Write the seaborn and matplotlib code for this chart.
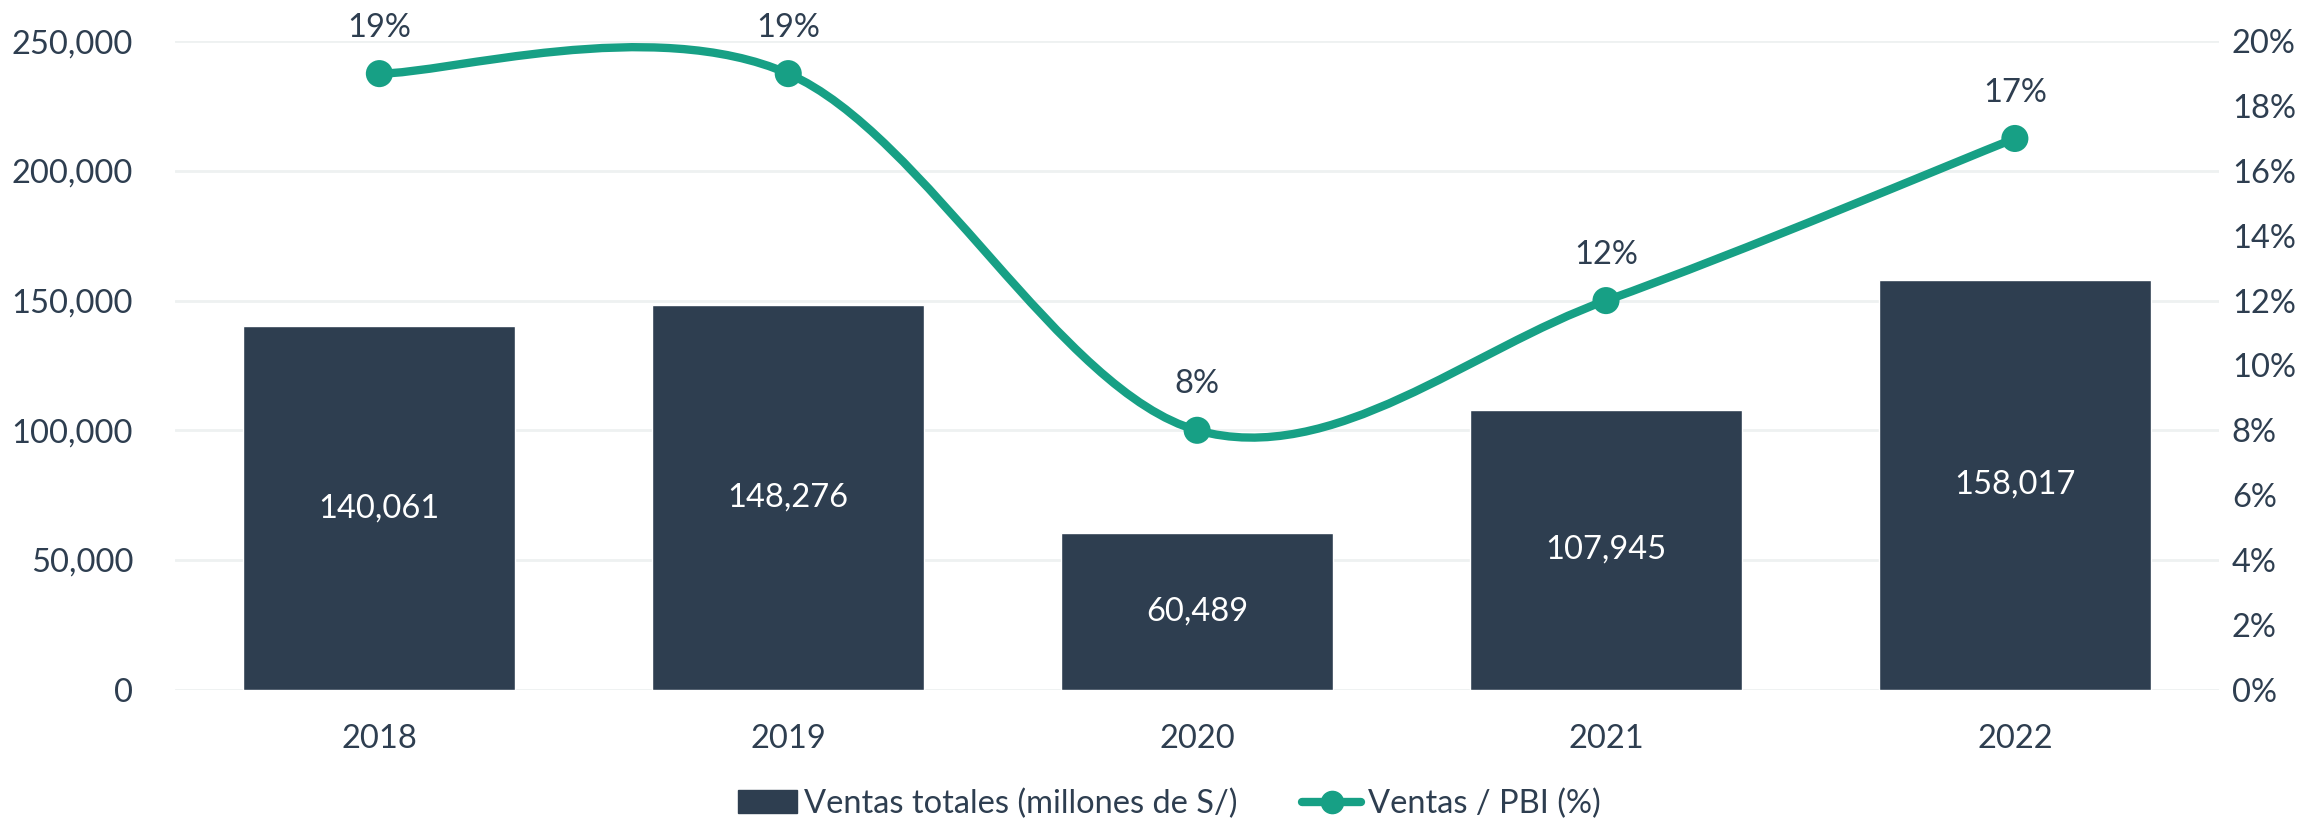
import numpy as np
import pandas as pd
import matplotlib
matplotlib.use("Agg")
import matplotlib.pyplot as plt
from matplotlib.path import Path
from matplotlib.patches import PathPatch, Patch
from matplotlib.lines import Line2D
from matplotlib.ticker import FuncFormatter, MultipleLocator
import seaborn as sns

# data
years = ["2018", "2019", "2020", "2021", "2022"]
ventas = [140061, 148276, 60489, 107945, 158017]   # millones de S/
ventas_pbi = [19, 19, 8, 12, 17]                    # %

NAVY = "#2E3E50"
TEAL = "#17A085"
GRID = "#EEF1F1"
FS = 23.5

sns.set_theme(style="white")
plt.rcParams["font.family"] = ["Lato", "DejaVu Sans"]
plt.rcParams["text.color"] = NAVY

df = pd.DataFrame({"year": years, "ventas": ventas, "pbi": ventas_pbi})

fig = plt.figure(figsize=(23.2, 8.24), dpi=100)
ax = fig.add_axes([0.0754, 0.163, 0.8812, 0.787])

sns.barplot(data=df, x="year", y="ventas", color=NAVY, saturation=1,
            width=0.665, ax=ax, zorder=2)
ax.set_xlim(-0.5, 4.5)
ax.set_ylim(0, 250000)
ax.yaxis.set_major_locator(MultipleLocator(50000))
ax.yaxis.set_major_formatter(FuncFormatter(lambda v, p: f"{v:,.0f}"))
ax.grid(axis="y", color=GRID, lw=2)
ax.set_axisbelow(True)
for s in ax.spines.values():
    s.set_visible(False)
ax.tick_params(axis="y", length=0, pad=30, labelsize=FS, labelcolor=NAVY)
ax.tick_params(axis="x", length=0, pad=25, labelsize=FS, labelcolor=NAVY)
ax.set_xlabel("")
ax.set_ylabel("")
for c in ax.containers:
    ax.bar_label(c, labels=[f"{v:,}" for v in ventas], label_type="center",
                 color="white", fontsize=FS)

# secondary axis: ventas / PBI
ax2 = ax.twinx()
ax2.set_ylim(0, 20)
ax2.yaxis.set_major_locator(MultipleLocator(2))
ax2.yaxis.set_major_formatter(FuncFormatter(lambda v, p: f"{v:.0f}%"))
ax2.tick_params(axis="y", length=0, pad=9, labelsize=FS, labelcolor=NAVY)
ax2.grid(False)
for s in ax2.spines.values():
    s.set_visible(False)

# smoothed line (bezier through the points, like excel's smooth line)
x = np.arange(len(years), dtype=float)
y = np.array(ventas_pbi, dtype=float)
pts = np.column_stack([x, y])
verts = [pts[0]]
codes = [Path.MOVETO]
for i in range(len(pts) - 1):
    p0 = pts[max(i - 1, 0)]
    p1 = pts[i]
    p2 = pts[i + 1]
    p3 = pts[min(i + 2, len(pts) - 1)]
    verts += [p1 + (p2 - p0) / 6, p2 - (p3 - p1) / 6, p2]
    codes += [Path.CURVE4] * 3
ax2.add_patch(PathPatch(Path(verts, codes), fill=False, edgecolor=TEAL,
                        lw=6, capstyle="round", zorder=3))
sns.scatterplot(x=x, y=y, ax=ax2, color=TEAL, s=380, edgecolor="none",
                zorder=4, legend=False)
for xi, v in zip(x, ventas_pbi):
    ax2.annotate(f"{v}%", (xi, v), xytext=(0, 33), textcoords="offset points",
                 ha="center", va="center", fontsize=FS, color=NAVY,
                 annotation_clip=False)
ax2.set_xlim(-0.5, 4.5)

handles = [
    Patch(color=NAVY, label="Ventas totales (millones de S/)"),
    Line2D([], [], color=TEAL, lw=6, marker="o", ms=16,
           label="Ventas / PBI (%)"),
]
fig.legend(handles=handles, loc="lower center", bbox_to_anchor=(0.504, -0.03),
           ncol=2, frameon=False, fontsize=FS, handlelength=1.8,
           handletextpad=0.2, columnspacing=2.0)

fig.savefig("out.png", dpi=100)
